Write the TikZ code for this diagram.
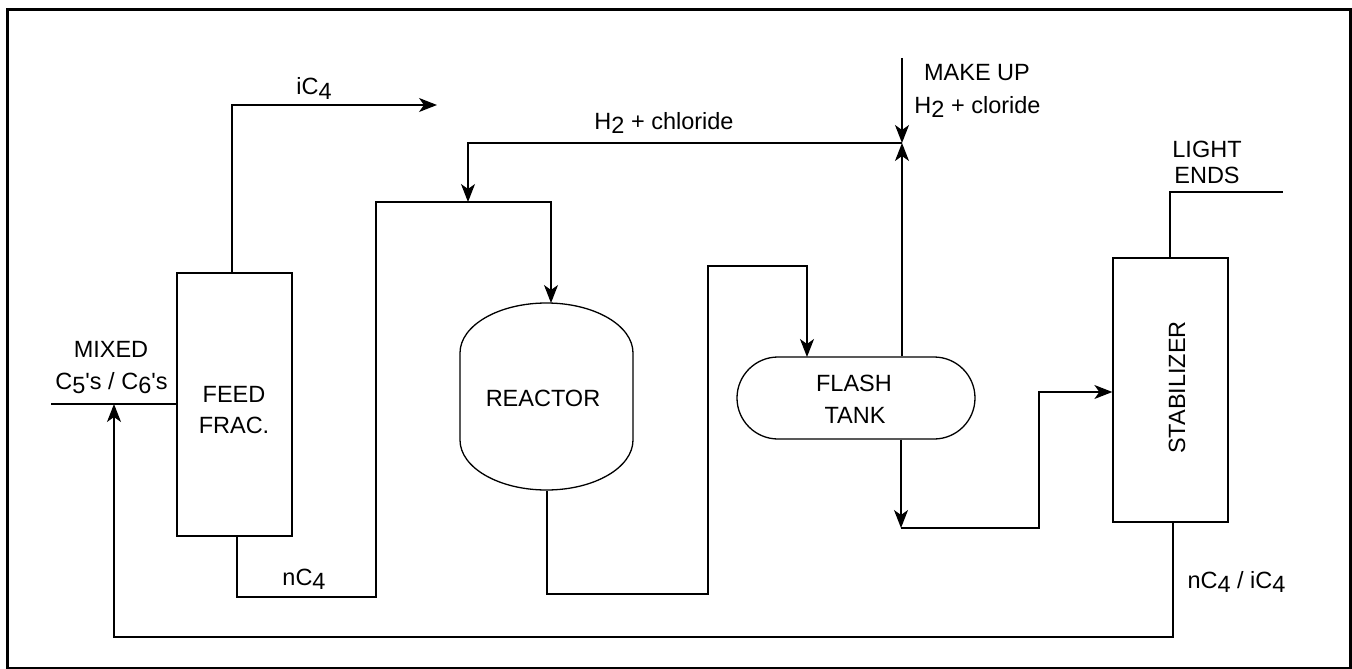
\documentclass[tikz,border=0pt]{standalone}
\usepackage{fontspec}
\setmainfont{Liberation Sans}
\usetikzlibrary{arrows.meta,calc}
\newcommand\dn[1]{\raisebox{-4.5pt}{#1}}
\begin{document}
\begin{tikzpicture}[x=1pt,y=-1pt,
  font=\fontsize{23.5}{28}\selectfont,
  line width=1.3pt,
  flow/.style={-{Stealth[length=18pt,width=14pt,inset=5pt]}},
  unitbox/.style={draw, line width=1.3pt, inner sep=0pt, minimum width=115pt, minimum height=263pt},
  lbl/.style={anchor=base, inner sep=0pt}]
\useasboundingbox (0,0) rectangle (1352,669);
\draw[line width=2.6pt] (7.5,9.5) rectangle (1350.5,668.5);

% units
\node[unitbox] (feed) at (234.5,404.5) {};
\node[unitbox, minimum height=264pt] (stab) at (1170.5,390) {};
\node[draw, line width=1.3pt, rounded corners=41pt, minimum width=238pt, minimum height=82pt, inner sep=0pt] (flash) at (856,398) {};
\node[minimum width=173pt, minimum height=188pt, inner sep=0pt] (reactor) at (546.5,397) {};
\draw (460,353) arc[start angle=180, end angle=0, x radius=86.5pt, y radius=50pt]
      -- (633,440) arc[start angle=0, end angle=-180, x radius=86.5pt, y radius=50pt] -- cycle;

% labels
\node[lbl] (tfeed1) at (234,402) {FEED};
\node[lbl] (tfeed2) at (234,433) {FRAC.};
\node[lbl] (treact) at (543,406) {REACTOR};
\node[lbl] (tflash1) at (854,391) {FLASH};
\node[lbl] (tflash2) at (855,423) {TANK};
\node[lbl, rotate=90] (tstab) at (1185,387.5) {STABILIZER};
\node[lbl] (tmix1) at (111,357) {MIXED};
\node[lbl] (tmix2) at (111.5,389) {C\dn{5}\textquotesingle s / C\dn{6}\textquotesingle s};
\node[lbl] (tic4) at (314,95) {iC\dn{4}};
\node[lbl] (tnc4) at (304,585) {nC\dn{4}};
\node[lbl] (th2) at (664,129) {H\dn{2} + chloride};
\node[lbl] (tmu1) at (977,81) {MAKE UP};
\node[lbl] (tmu2) at (977.5,113) {H\dn{2} + cloride};
\node[lbl] (tle1) at (1207,157) {LIGHT};
\node[lbl] (tle2) at (1207,183) {ENDS};
\node[lbl] (tbot) at (1236.5,588) {nC\dn{4} / iC\dn{4}};

% free ends
\coordinate (ic4end) at (437,105);
\coordinate (junc) at (902,143);
\coordinate (mutop) at (902,58);
\coordinate (h2drop) at (468,202);
\coordinate (fdrop) at (901,528);
\coordinate (leend) at (1283,192);
\coordinate (mixin) at (51,404);
\coordinate (mixjoin) at (114,404);

% connectors
\draw[flow] ([xshift=-2.5pt]feed.north) |- (ic4end);
\draw[flow] ([xshift=2.5pt]feed.south) |- (376,597) |- (551,202) -- (551,303);
\draw[flow] (junc) -| (h2drop);
\draw[flow] (mutop) -- (junc);
\draw[flow] ([xshift=46pt]flash.north) -- (junc);
\draw[flow] (547,491) |- (708,594) |- (807,266) -- (807,357);
\draw[flow] ([xshift=45pt]flash.south) -- (fdrop);
\draw[flow] (fdrop) -| (1039,392) -- (stab.west |- 0,392);
\draw ([xshift=-0.5pt]stab.north) |- (leend);
\draw[flow] ([xshift=2.5pt]stab.south) |- (114,637) -- (mixjoin);
\draw (mixin) -- (feed.west |- mixin);
\end{tikzpicture}
\end{document}
